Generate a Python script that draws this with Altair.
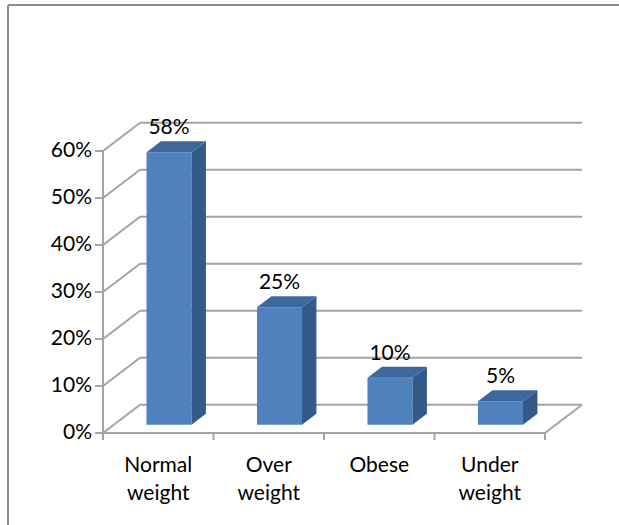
import altair as alt
import pandas as pd

# ---- data ----
categories = ["Normal weight", "Over weight", "Obese", "Under weight"]
values = [58, 25, 10, 5]
value_labels = ["58%", "25%", "10%", "5%"]
y_ticks = [0, 10, 20, 30, 40, 50, 60]
y_tick_labels = ["0%", "10%", "20%", "30%", "40%", "50%", "60%"]

# ---- 3D projection settings (in data units) ----
DX, DY = 0.335, 6.0      # depth offset of back wall
F0, F1 = 0.29, 0.68      # bar front / back depth fractions
HW = 0.2036              # half bar width (category units)
N = len(categories)
PXX, PXY = 110.5, 4.7    # pixels per data unit
W, H = 481, 329
FONT = "Lato"
FS = 21
GRID = "#a3a3a3"

xs = alt.Scale(domain=[0, W / PXX], nice=False, zero=False)
ys = alt.Scale(domain=[0, 70], nice=False, zero=False)

bars = pd.DataFrame({"category": categories, "value": values,
                     "label": value_labels, "idx": list(range(N))})
faces = bars.merge(pd.DataFrame({"f": [F0, F1]}), how="cross")
grid = pd.DataFrame({"t": y_ticks, "tl": y_tick_labels})
ticks_x = pd.DataFrame({"p": list(range(N + 1))})
frame = pd.DataFrame({"n": [N], "top": [max(y_ticks)]})


def X(f, **k):
    return alt.X(f, type="quantitative", scale=xs, axis=None, **k)


def Y(f, **k):
    return alt.Y(f, type="quantitative", scale=ys, axis=None, **k)


rule = dict(color=GRID, strokeWidth=2)

front_axis = alt.Chart(frame).mark_rule(**rule).encode(
    x=X("x0:Q"), y=Y("y0:Q"), y2="top:Q"
).transform_calculate(x0="0", y0="0")

ytick_marks = alt.Chart(grid).mark_rule(**rule).encode(
    x=X("x0:Q"), x2="x1:Q", y=Y("t:Q")
).transform_calculate(x0=f"-8/{PXX}", x1="0")

ytick_text = alt.Chart(grid).mark_text(font=FONT, fontSize=FS, color="#000000",
                                       align="right", baseline="middle").encode(
    x=X("xl:Q"), y=Y("t:Q"), text="tl:N"
).transform_calculate(xl=f"-11/{PXX}")

xtick_marks = alt.Chart(ticks_x).mark_rule(**rule).encode(
    x=X("p:Q"), y=Y("y0:Q"), y2="y1:Q"
).transform_calculate(y0="0", y1=f"-7/{PXY}")

back_grid = alt.Chart(grid).mark_rule(**rule).encode(
    x=X("x0:Q"), x2="x1:Q", y=Y("yb:Q")
).transform_calculate(x0=f"{DX}", x1=f"{N}+{DX}", yb=f"datum.t+{DY}")

side_grid = alt.Chart(grid).mark_rule(**rule).encode(
    x=X("x0:Q"), x2="x1:Q", y=Y("t:Q"), y2="yb:Q"
).transform_calculate(x0="0", x1=f"{DX}", yb=f"datum.t+{DY}")

floor_front = alt.Chart(frame).mark_rule(**rule).encode(
    x=X("x0:Q"), x2="n:Q", y=Y("y0:Q")
).transform_calculate(x0="0", y0="0")

floor_right = alt.Chart(frame).mark_rule(**rule).encode(
    x=X("n:Q"), x2="x1:Q", y=Y("y0:Q"), y2="y1:Q"
).transform_calculate(x1=f"datum.n+{DX}", y0="0", y1=f"{DY}")

front = alt.Chart(bars).mark_rect(color="#4f81bd").encode(
    x=X("xl:Q"), x2="xr:Q", y=Y("yb:Q"), y2="yt:Q"
).transform_calculate(
    xl=f"datum.idx+0.5-{HW}+{F0}*{DX}", xr=f"datum.idx+0.5+{HW}+{F0}*{DX}",
    yb=f"{F0}*{DY}", yt=f"datum.value+{F0}*{DY}")

side = alt.Chart(faces).mark_area(color="#345a8a").encode(
    x=X("xs:Q"), y=Y("yb:Q"), y2="yt:Q",
    detail="category:N"
).transform_calculate(
    xs=f"datum.idx+0.5+{HW}+datum.f*{DX}",
    yb=f"datum.f*{DY}", yt=f"datum.value+datum.f*{DY}")

top = alt.Chart(faces).mark_area(orient="horizontal", color="#3d689d").encode(
    y=Y("yt:Q"), x=X("xl:Q"), x2="xr:Q",
    detail="category:N"
).transform_calculate(
    xl=f"datum.idx+0.5-{HW}+datum.f*{DX}", xr=f"datum.idx+0.5+{HW}+datum.f*{DX}",
    yt=f"datum.value+datum.f*{DY}")

vlabels = alt.Chart(bars).mark_text(font=FONT, fontSize=FS, color="#000000",
                                    baseline="alphabetic", align="center").encode(
    x=X("xc:Q"), y=Y("yl:Q"), text="label:N"
).transform_calculate(xc=f"datum.idx+0.5+{F0}*{DX}", yl=f"datum.value+{F1}*{DY}+1.5")

clabels = alt.Chart(bars).mark_text(font=FONT, fontSize=FS, color="#000000",
                                    baseline="alphabetic", align="center",
                                    lineBreak=" ", lineHeight=28).encode(
    x=X("xc:Q"), y=Y("yl:Q"), text="category:N"
).transform_calculate(xc="datum.idx+0.5", yl=f"-39/{PXY}")

border_left = alt.Chart(frame).mark_rule(color="#8c8c8c", strokeWidth=2).encode(
    x=alt.value(-95), y=alt.value(-99), y2=alt.value(430))
border_top = alt.Chart(frame).mark_rule(color="#8c8c8c", strokeWidth=2).encode(
    x=alt.value(-95), x2=alt.value(530), y=alt.value(-99))

chart = alt.layer(
    back_grid, side_grid, floor_front, floor_right, front_axis,
    ytick_marks, ytick_text, xtick_marks,
    front, side, top, vlabels, clabels, border_left, border_top
).properties(
    width=W, height=H,
    autosize=alt.AutoSizeParams(type="none"),
    padding={"left": 103, "top": 104, "right": 35, "bottom": 92},
    background="#ffffff",
).configure_view(stroke=None)

chart.save("out.html", embed_options={"renderer": "svg", "actions": False})
